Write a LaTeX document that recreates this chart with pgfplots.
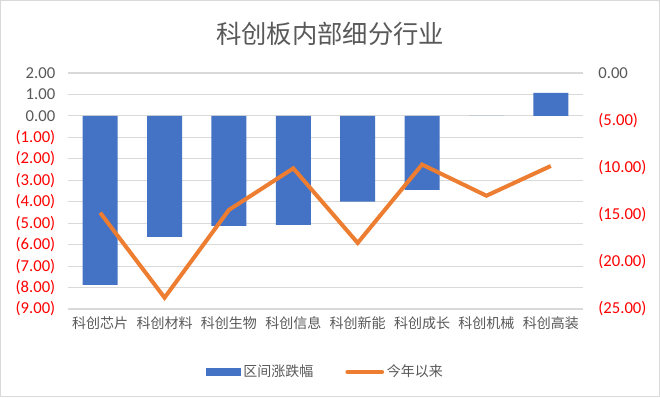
\documentclass[border=0pt]{standalone}
\usepackage{pgfplots}
\pgfplotsset{compat=1.18}
\usepackage{fontspec}
\setmainfont{Carlito}
\newfontfamily\cjk{Noto Sans CJK SC}
\definecolor{barblue}{HTML}{4472C4}
\definecolor{lineor}{HTML}{ED7D31}
\definecolor{txtgray}{HTML}{595959}
\definecolor{gridgray}{HTML}{D9D9D9}
\definecolor{tred}{HTML}{FF0000}
\begin{document}
\begin{tikzpicture}[x=1pt,y=1pt]
\draw[draw=gridgray,line width=0.8pt,fill=white] (0.4,0.4) rectangle (494.6,297.35);
\node[font=\cjk\fontsize{19}{22}\selectfont,text=txtgray] at (247.5,272.5) {科创板内部细分行业};
\begin{axis}[
  at={(51pt,66pt)}, anchor=south west,
  scale only axis, width=386.25pt, height=177pt,
  xmin=-0.5, xmax=7.5, ymin=-9, ymax=2,
  axis x line*=bottom, axis y line*=left,
  x axis line style={draw=gridgray,line width=0.8pt},
  y axis line style={draw=none},
  xtick={0,...,7},
  xticklabels={科创芯片,科创材料,科创生物,科创信息,科创新能,科创成长,科创机械,科创高装},
  xticklabel style={font=\cjk\fontsize{10.5}{12}\selectfont,text=txtgray},
  ytick={-9,...,2},
  yticklabels={\textcolor{tred}{(9.00)},\textcolor{tred}{(8.00)},\textcolor{tred}{(7.00)},\textcolor{tred}{(6.00)},\textcolor{tred}{(5.00)},\textcolor{tred}{(4.00)},\textcolor{tred}{(3.00)},\textcolor{tred}{(2.00)},\textcolor{tred}{(1.00)},0.00,1.00,2.00},
  yticklabel style={font=\fontsize{12.5}{14}\selectfont,text=txtgray},
  major tick length=0pt,
  ymajorgrids, grid style={draw=gridgray,line width=0.8pt},
  yticklabel style={xshift=-6pt},
  xticklabel style={yshift=-2pt},
]
\addplot[ybar, bar width=26.25pt, fill=barblue, draw=none] coordinates {
(0,-7.88) (1,-5.64) (2,-5.13) (3,-5.08) (4,-4.0) (5,-3.45) (6,0) (7,1.07)};
\end{axis}
\begin{axis}[
  at={(51pt,66pt)}, anchor=south west,
  scale only axis, width=386.25pt, height=177pt,
  xmin=-0.5, xmax=7.5, ymin=-25, ymax=0,
  axis x line=none, axis y line*=right,
  y axis line style={draw=none},
  ytick={-25,-20,...,0},
  yticklabels={\textcolor{tred}{(25.00)},\textcolor{tred}{(20.00)},\textcolor{tred}{(15.00)},\textcolor{tred}{(10.00)},\textcolor{tred}{(5.00)},0.00},
  yticklabel style={font=\fontsize{12.5}{14}\selectfont,text=txtgray,xshift=8pt},
  major tick length=0pt,
  legend columns=2,
  legend style={at={(0.5,-47.25pt)}, anchor=center, draw=none, fill=none,
    font=\cjk\fontsize{10.5}{12}\selectfont, text=txtgray,
    /tikz/every even column/.append style={column sep=22pt}},
  legend cell align=left,
]
\addlegendimage{legend image code/.code={\fill[barblue] (0pt,-2.5pt) rectangle (26pt,2.5pt);}}
\addlegendentry{区间涨跌幅}
\addplot[lineor, line width=3pt, mark=none, legend image code/.code={\draw[lineor,line width=3pt,line cap=round] (0pt,0pt) -- (26pt,0pt);}] coordinates {
(0,-14.8) (1,-23.8) (2,-14.5) (3,-10.1) (4,-18.0) (5,-9.7) (6,-13.0) (7,-9.85)};
\addlegendentry{今年以来}
\end{axis}
\end{tikzpicture}
\end{document}
